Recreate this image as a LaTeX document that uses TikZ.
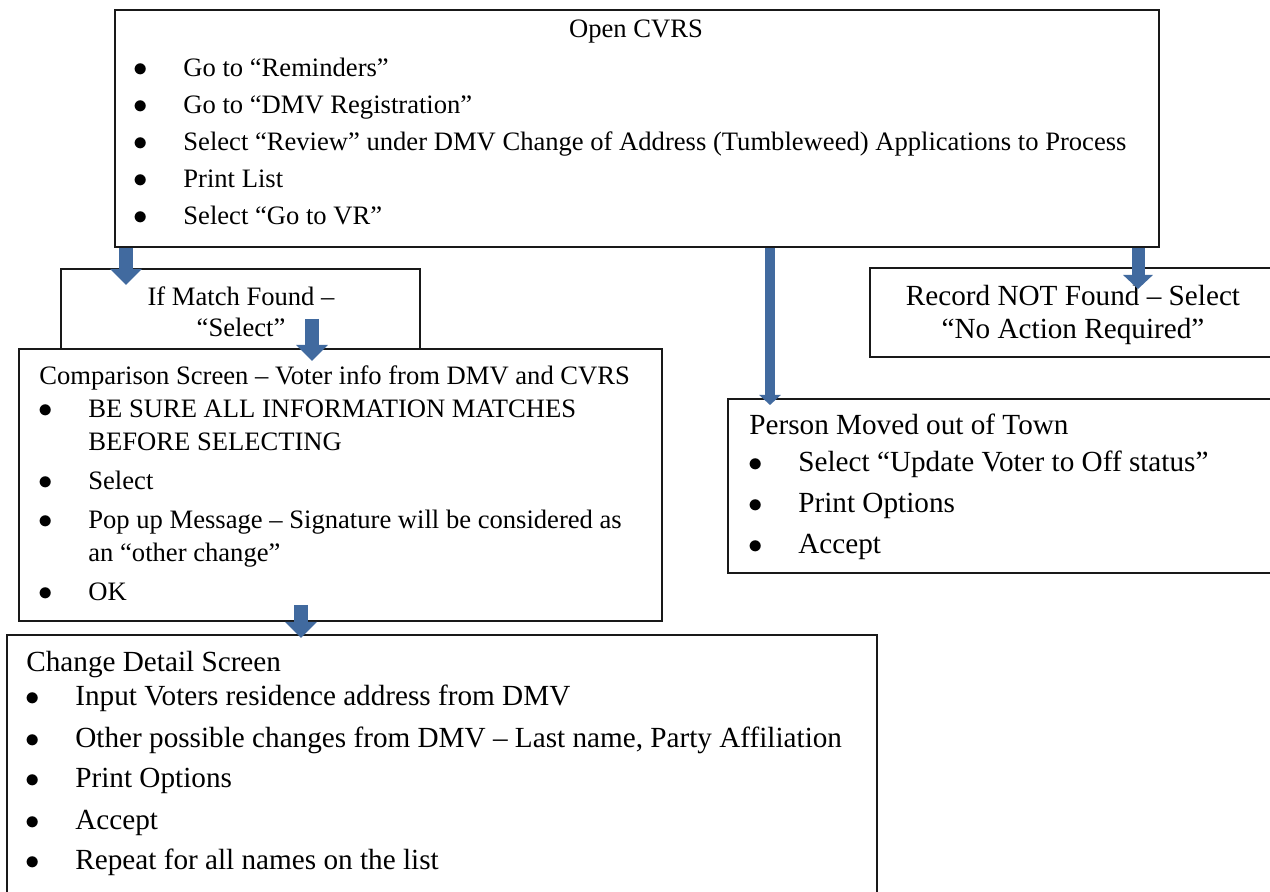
\documentclass[tikz,border=0pt]{standalone}
\usepackage{fontspec}
\setmainfont{Liberation Serif}
\usetikzlibrary{positioning,fit,arrows.meta}
\definecolor{flowblue}{HTML}{416A9F}
\newcommand{\itm}[1]{\hspace*{3pt}\makebox[0pt]{$\bullet$}\hspace*{21.5pt}#1}
\newcommand{\cnt}[1]{\hspace*{24.5pt}#1}

\begin{document}
\begin{tikzpicture}[x=0.5pt, y=-0.5pt,
		box/.style = {draw=black!90, line width=1pt, fill=white, inner sep=0pt},
		list/.style = {align=left, anchor=base west, inner sep=0pt},
		head/.style = {align=center, anchor=base, inner sep=0pt},
		flow/.style = {draw=flowblue, line width=7pt, -{Triangle[width=15.5pt,length=8pt]}}]
	\useasboundingbox (0,0) rectangle (1270,892);
	\clip (0,0) rectangle (1270,892);

	% boxes
	\node[box, fit={(115,10) (1159,247)}] (open) {};
	\node[box, fit={(61,269) (420,349)}] (match) {};
	\node[box, fit={(870,268) (1280,357)}] (record) {};
	\node[box, fit={(19,349) (662,621)}] (compare) {};
	\node[box, fit={(728,399) (1280,573)}] (moved) {};
	\node[box, fit={(7,635) (877,900)}] (detail) {};

	% texts (anchored at the baseline of their last line)
	\node[head, font=\fontsize{13.3}{18.5}\selectfont] (opentitle) at (636,38) {Open CVRS};
	\node[list, font=\fontsize{13.3}{18.5}\selectfont] (openlist) at (134,225) {\itm{Go to “Reminders”}\\ \itm{Go to “DMV Registration”}\\ \itm{Select “Review” under DMV Change of Address (Tumbleweed) Applications to Process}\\ \itm{Print List}\\ \itm{Select “Go to VR”}};
	\node[head, font=\fontsize{13.3}{15.5}\selectfont] (matchtext) at (241,337) {If Match Found –\\“Select”};
	\node[head, font=\fontsize{14.6}{16.5}\selectfont] (recordtext) at (1073,339) {Record NOT Found – Select\\“No Action Required”};
	\node[list, font=\fontsize{13.3}{16.5}\selectfont] (comparetext) at (39,601) {Comparison Screen – Voter info from DMV and CVRS\\ \itm{BE SURE ALL INFORMATION MATCHES}\\ \cnt{BEFORE SELECTING}\\[3pt] \itm{Select}\\[3pt] \itm{Pop up Message – Signature will be considered as}\\ \cnt{an “other change”}\\[3pt] \itm{OK}};
	\node[list, font=\fontsize{14.6}{20.5}\selectfont] (movedtext) at (749,554) {Person Moved out of Town\\[-2pt] \itm{Select “Update Voter to Off status”}\\ \itm{Print Options}\\ \itm{Accept}};
	\node[list, font=\fontsize{14.6}{20.5}\selectfont] (detailtext) at (26,870) {Change Detail Screen\\[-3pt] \itm{Input Voters residence address from DMV}\\ \itm{Other possible changes from DMV – Last name, Party Affiliation}\\ \itm{Print Options}\\ \itm{Accept}\\ \itm{Repeat for all names on the list}};

	% arrows
	\coordinate (tipA) at (126,285);
	\coordinate (tailB) at (312,319);
	\coordinate (tipB) at (312,361);
	\coordinate (tipC) at (770,405);
	\coordinate (tipD) at (1138,289);
	\coordinate (tailE) at (301,605);
	\coordinate (tipE) at (301,638);
	\draw[flow] (open.south -| tipA) -- (tipA);
	\draw[flow] (tailB) -- (tipB);
	\draw[flow, line width=5.25pt, -{Triangle[width=10.5pt,length=5pt]}] (open.south -| tipC) -- (tipC);
	\draw[flow, line width=6.5pt, -{Triangle[width=14.5pt,length=7pt]}] (open.south -| tipD) -- (tipD);
	\draw[flow] (tailE) -- (tipE);
\end{tikzpicture}
\end{document}
